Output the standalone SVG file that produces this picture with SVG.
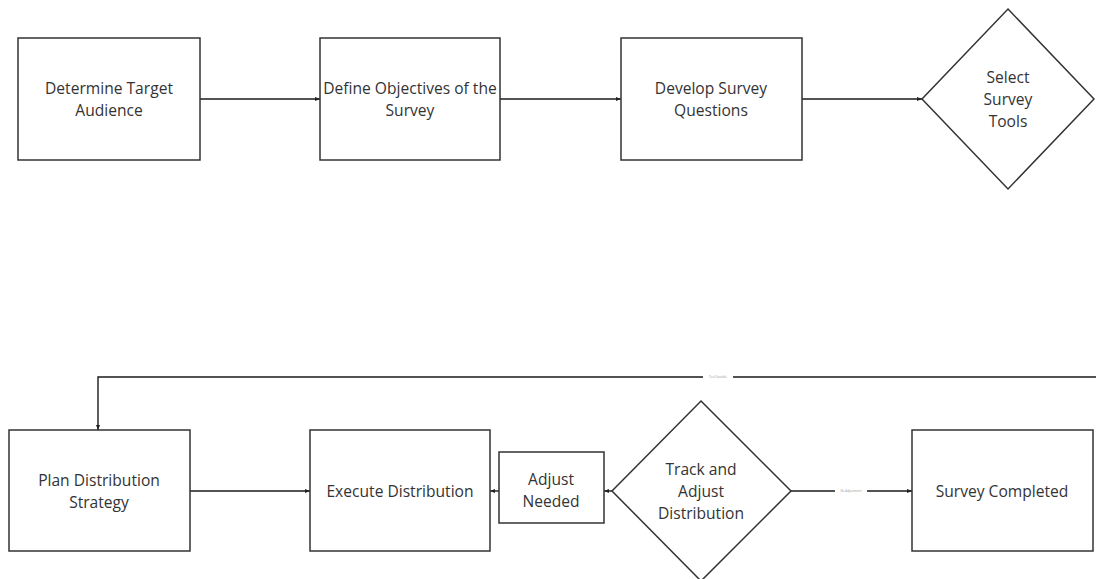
<svg xmlns="http://www.w3.org/2000/svg" width="1096" height="579" viewBox="0 0 1096 579">
  <defs>
    <marker id="arrow" viewBox="0 0 10 10" refX="10" refY="5" markerWidth="5" markerHeight="5" orient="auto" markerUnits="userSpaceOnUse">
      <path d="M0,1 L10,5 L0,9 z" fill="#222"/>
    </marker>
    <style>
      .node { fill: #ffffff; stroke: #333333; stroke-width: 1.5; }
      .label { font-family: "Open Sans", "Noto Sans", sans-serif; font-size: 15.6px; fill: #333333; text-anchor: middle; }
      .edge { fill: none; stroke: #1a1a1a; stroke-width: 1.4; marker-end: url(#arrow); }
      .edge-label-bg { fill: #ffffff; }
      .edge-label { font-family: "Open Sans", "Noto Sans", sans-serif; font-size: 3px; fill: #999999; text-anchor: middle; }
    </style>
  </defs>
  <rect width="1096" height="579" fill="#ffffff"/>

  <!-- connectors -->
  <g id="edges">
    <path class="edge" d="M200,99 L320,99"/>
    <path class="edge" d="M500,99 L621,99"/>
    <path class="edge" d="M802,99 L922,99"/>
    <path class="edge" d="M1096,377 L98,377 L98,430"/>
    <rect class="edge-label-bg" x="703" y="374" width="30" height="6"/>
    <text class="edge-label" x="718" y="378">Tool Suitable</text>
    <path class="edge" d="M190,491 L310,491"/>
    <path class="edge" d="M612,491 L604,491"/>
    <path class="edge" d="M499,491 L490,491"/>
    <path class="edge" d="M791,491 L912,491"/>
    <rect class="edge-label-bg" x="835" y="488" width="32" height="6"/>
    <text class="edge-label" x="851" y="492">No Adjustment</text>
  </g>

  <g id="determine-target-audience">
    <rect class="node" x="18" y="38" width="182" height="122"/>
    <text class="label" x="109" y="94">Determine Target</text>
    <text class="label" x="109" y="116">Audience</text>
  </g>

  <g id="define-objectives">
    <rect class="node" x="320" y="38" width="180" height="122"/>
    <text class="label" x="410" y="94">Define Objectives of the</text>
    <text class="label" x="410" y="116">Survey</text>
  </g>

  <g id="develop-questions">
    <rect class="node" x="621" y="38" width="181" height="122"/>
    <text class="label" x="711" y="94">Develop Survey</text>
    <text class="label" x="711" y="116">Questions</text>
  </g>

  <g id="select-tools">
    <polygon class="node" points="1008,9 1094,99 1008,189 922,99"/>
    <text class="label" x="1008" y="83">Select</text>
    <text class="label" x="1008" y="105">Survey</text>
    <text class="label" x="1008" y="127">Tools</text>
  </g>

  <g id="plan-distribution">
    <rect class="node" x="9" y="430" width="181" height="121"/>
    <text class="label" x="99" y="486">Plan Distribution</text>
    <text class="label" x="99" y="508">Strategy</text>
  </g>

  <g id="execute-distribution">
    <rect class="node" x="310" y="430" width="180" height="121"/>
    <text class="label" x="400" y="497">Execute Distribution</text>
  </g>

  <g id="adjust-needed">
    <rect class="node" x="499" y="452" width="105" height="71"/>
    <text class="label" x="551" y="485">Adjust</text>
    <text class="label" x="551" y="507">Needed</text>
  </g>

  <g id="track-adjust">
    <polygon class="node" points="701,401 791,491 701,581 612,491"/>
    <text class="label" x="701" y="475">Track and</text>
    <text class="label" x="701" y="497">Adjust</text>
    <text class="label" x="701" y="519">Distribution</text>
  </g>

  <g id="survey-completed">
    <rect class="node" x="912" y="430" width="181" height="121"/>
    <text class="label" x="1002" y="497">Survey Completed</text>
  </g>
</svg>
